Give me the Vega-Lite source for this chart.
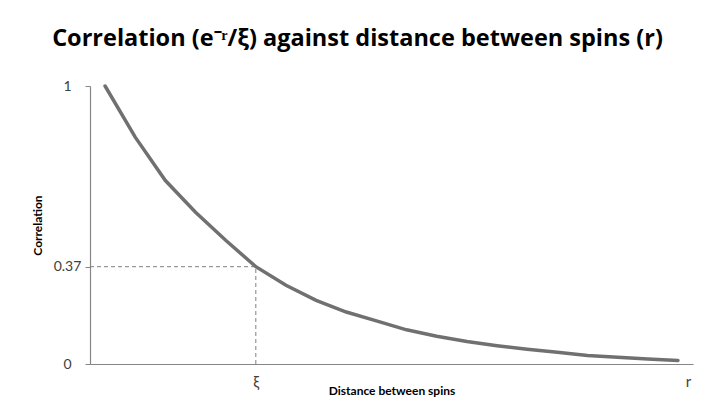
{
  "$schema": "https://vega.github.io/schema/vega-lite/v6.json",
  "autosize": {"type": "none"},
  "padding": {"left": 90, "top": 86, "right": 11, "bottom": 48},
  "width": 603,
  "height": 278,
  "background": "white",
  "title": {
    "text": "Correlation (e⁻ʳ/ξ) against distance between spins (r)",
    "font": "Open Sans",
    "fontSize": 23.5,
    "fontWeight": "bold",
    "color": "#000000",
    "anchor": "middle",
    "dx": -34,
    "baseline": "alphabetic",
    "offset": 10
  },
  "config": {
    "view": {"stroke": null},
    "font": "Lato"
  },
  "datasets": {
    "curve": [
      {"i": 0, "c": 1.0},
      {"i": 1, "c": 0.816},
      {"i": 2, "c": 0.66},
      {"i": 3, "c": 0.546},
      {"i": 4, "c": 0.445},
      {"i": 5, "c": 0.35},
      {"i": 6, "c": 0.283},
      {"i": 7, "c": 0.229},
      {"i": 8, "c": 0.187},
      {"i": 9, "c": 0.155},
      {"i": 10, "c": 0.123},
      {"i": 11, "c": 0.1},
      {"i": 12, "c": 0.081},
      {"i": 13, "c": 0.066},
      {"i": 14, "c": 0.053},
      {"i": 15, "c": 0.042},
      {"i": 16, "c": 0.031},
      {"i": 17, "c": 0.024},
      {"i": 18, "c": 0.018},
      {"i": 19, "c": 0.013}
    ],
    "guides": [
      {"xa": -0.5, "xb": 5, "ya": 0.35, "yb": 0.35},
      {"xa": 5, "xb": 5, "ya": 0, "yb": 0.35}
    ]
  },
  "layer": [
    {
      "data": {"name": "guides"},
      "mark": {"type": "rule", "color": "#7f7f7f", "strokeWidth": 1, "strokeDash": [4, 3]},
      "encoding": {
        "x": {"field": "xa", "type": "quantitative", "scale": {"domain": [-0.5, 19.5], "nice": false, "zero": false}},
        "x2": {"field": "xb"},
        "y": {"field": "ya", "type": "quantitative", "scale": {"domain": [0, 1], "nice": false}},
        "y2": {"field": "yb"}
      }
    },
    {
      "data": {"name": "curve"},
      "mark": {"type": "line", "color": "#707070", "strokeWidth": 3.5, "strokeCap": "round"},
      "encoding": {
        "x": {
          "field": "i", "type": "quantitative",
          "scale": {"domain": [-0.5, 19.5], "nice": false, "zero": false},
          "axis": {
            "title": "Distance between spins",
            "titleFont": "Lato", "titleFontSize": 12, "titleFontWeight": "bold", "titleColor": "#000000",
            "titleY": 26, "titleBaseline": "middle",
            "values": [5, 19.33],
            "labelExpr": "datum.value == 5 ? 'ξ' : 'r'",
            "labelFont": "Lato", "labelFontSize": 15, "labelColor": "#404040",
            "labelPadding": 10,
            "ticks": false, "grid": false,
            "domainColor": "#868686", "domainWidth": 1.2
          }
        },
        "y": {
          "field": "c", "type": "quantitative",
          "scale": {"domain": [0, 1], "nice": false},
          "axis": {
            "title": "Correlation",
            "titleFont": "Lato", "titleFontSize": 12, "titleFontWeight": "bold", "titleColor": "#000000",
            "titleX": -53, "titleY": 139, "titleAlign": "center", "titleBaseline": "middle",
            "values": [0, 0.35, 1],
            "labelExpr": "datum.value == 0.35 ? '0.37' : format(datum.value, 'd')",
            "labelFont": "Lato", "labelFontSize": 14, "labelColor": "#404040",
            "labelAlign": "center", "labelPadding": 18,
            "tickSize": 5, "tickColor": "#868686", "grid": false,
            "domainColor": "#868686", "domainWidth": 1.2
          }
        }
      }
    }
  ]
}
